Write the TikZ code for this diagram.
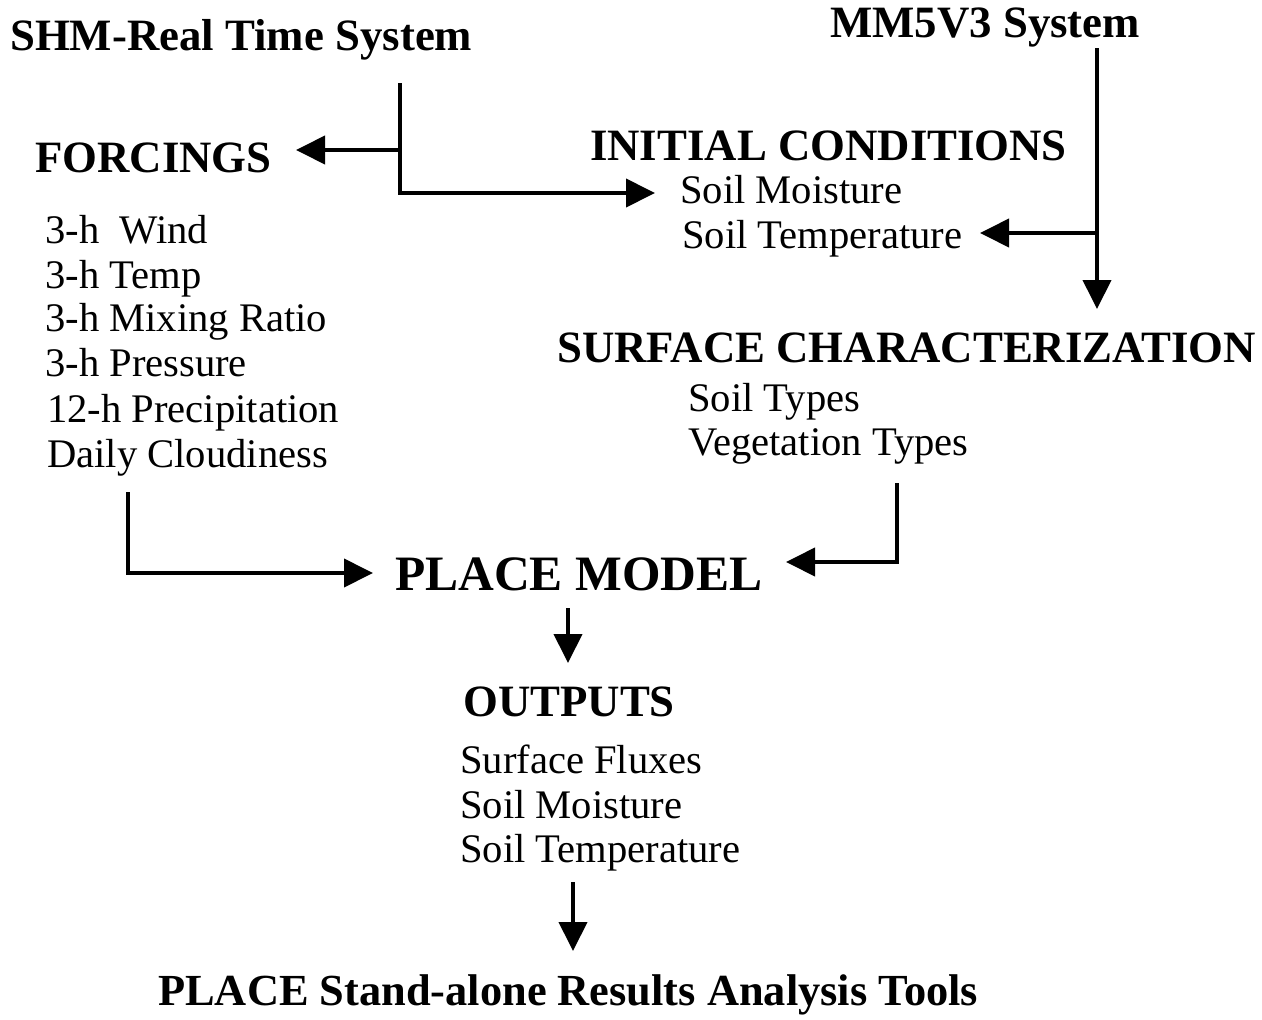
\documentclass[tikz,border=0pt]{standalone}
\usepackage{fontspec}
\setmainfont{Liberation Serif}
\usetikzlibrary{arrows.meta}
\begin{document}
\begin{tikzpicture}[x=1pt,y=-1pt,
 hd/.style={font=\fontsize{44.8}{48}\selectfont\bfseries, anchor=base west, inner sep=0pt},
 tx/.style={font=\fontsize{40.6}{44}\selectfont, anchor=base west, inner sep=0pt},
 wire/.style={line width=4pt},
 conn/.style={line width=4pt, -{Triangle[length=29pt,width=28pt]}}]
\useasboundingbox[fill=white] (0,0) rectangle (1262,1020);
% titles and headings
\node[hd] (shm) at (10,50) {SHM-Real Time System};
\node[hd] (mm5) at (830,37) {MM5V3 System};
\node[hd] (forc) at (35,172) {FORCINGS};
\node[hd] (init) at (590,160) {INITIAL CONDITIONS};
\node[tx] (ism) at (680,203) {Soil Moisture};
\node[tx] (ist) at (682,248) {Soil Temperature};
\node[tx] (f1) at (45,243) {3-h\ \ Wind};
\node[tx] (f2) at (45,288) {3-h Temp};
\node[tx] (f3) at (45,331) {3-h Mixing Ratio};
\node[tx] (f4) at (45,376) {3-h Pressure};
\node[tx] (f5) at (47,422) {12-h Precipitation};
\node[tx] (f6) at (47,467) {Daily Cloudiness};
\node[hd] (surf) at (557,362) {SURFACE CHARACTERIZATION};
\node[tx] (soilt) at (688,411) {Soil Types};
\node[tx] (veg) at (688,455) {Vegetation Types};
\node[hd, font=\fontsize{49.5}{52}\selectfont\bfseries] (place) at (395,590) {PLACE MODEL};
\node[hd] (out) at (463,716) {OUTPUTS};
\node[tx] (sf) at (460,773) {Surface Fluxes};
\node[tx] (osm) at (460,818) {Soil Moisture};
\node[tx] (ost) at (460,862) {Soil Temperature};
\node[hd, font=\fontsize{44.4}{48}\selectfont\bfseries] (tools) at (158,1005) {PLACE Stand-alone Results Analysis Tools};
% connector points
\coordinate (shmA) at (400,83);
\coordinate (shmB) at (400,150);
\coordinate (forcT) at (296,150);
\coordinate (initT) at (655,193);
\coordinate (mmA) at (1097,48);
\coordinate (mmB) at (1097,233);
\coordinate (mmT) at (1097,309);
\coordinate (istT) at (980,233);
\coordinate (fA) at (128,492);
\coordinate (fT) at (373,573);
\coordinate (sA) at (897,483);
\coordinate (sT) at (786,562);
\coordinate (pA) at (568,608);
\coordinate (pT) at (568,663);
\coordinate (oA) at (573,882);
\coordinate (oT) at (573,951);
% connectors
\draw[wire] (shmA) -- (shmB);
\draw[conn] (shmB) -- (forcT);
\draw[conn] (shmB) |- (initT);
\draw[conn] (mmA) -- (mmT);
\draw[conn] (mmB) -- (istT);
\draw[conn] (fA) |- (fT);
\draw[conn] (sA) |- (sT);
\draw[conn] (pA) -- (pT);
\draw[conn] (oA) -- (oT);
\end{tikzpicture}
\end{document}
